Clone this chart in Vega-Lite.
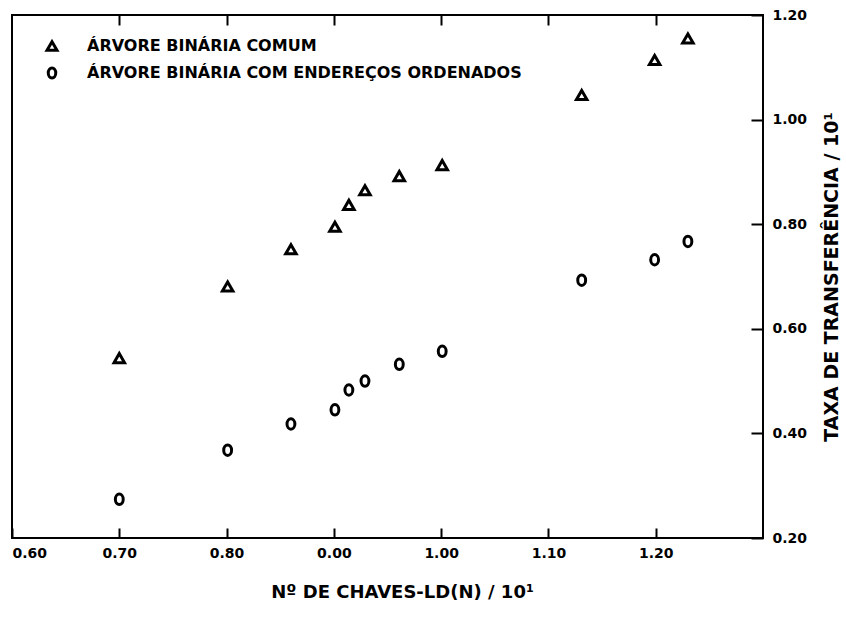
{
  "$schema": "https://vega.github.io/schema/vega-lite/v6.json",
  "width": 751,
  "height": 523,
  "autosize": {"type": "none"},
  "padding": {"left": 12, "top": 15, "right": 83, "bottom": 86},
  "background": "white",
  "config": {
    "view": {"stroke": "black", "strokeWidth": 2},
    "axis": {"domain": false, "grid": false, "ticks": true, "tickColor": "black", "tickWidth": 2, "labelColor": "black", "titleColor": "black", "labelFont": "DejaVu Sans", "titleFont": "DejaVu Sans", "labelFontWeight": "bold", "titleFontWeight": "bold"},
    "legend": {"labelFont": "DejaVu Sans", "labelFontWeight": "bold", "labelColor": "black"}
  },
  "data": {
    "values": [
      {"serie": "ÁRVORE BINÁRIA COMUM", "n": 0.700, "taxa": 0.544},
      {"serie": "ÁRVORE BINÁRIA COMUM", "n": 0.801, "taxa": 0.681},
      {"serie": "ÁRVORE BINÁRIA COMUM", "n": 0.860, "taxa": 0.752},
      {"serie": "ÁRVORE BINÁRIA COMUM", "n": 0.901, "taxa": 0.795},
      {"serie": "ÁRVORE BINÁRIA COMUM", "n": 0.914, "taxa": 0.837},
      {"serie": "ÁRVORE BINÁRIA COMUM", "n": 0.929, "taxa": 0.865},
      {"serie": "ÁRVORE BINÁRIA COMUM", "n": 0.961, "taxa": 0.892},
      {"serie": "ÁRVORE BINÁRIA COMUM", "n": 1.001, "taxa": 0.913},
      {"serie": "ÁRVORE BINÁRIA COMUM", "n": 1.131, "taxa": 1.047},
      {"serie": "ÁRVORE BINÁRIA COMUM", "n": 1.199, "taxa": 1.114},
      {"serie": "ÁRVORE BINÁRIA COMUM", "n": 1.230, "taxa": 1.155},
      {"serie": "ÁRVORE BINÁRIA COM ENDEREÇOS ORDENADOS", "n": 0.700, "taxa": 0.274},
      {"serie": "ÁRVORE BINÁRIA COM ENDEREÇOS ORDENADOS", "n": 0.801, "taxa": 0.368},
      {"serie": "ÁRVORE BINÁRIA COM ENDEREÇOS ORDENADOS", "n": 0.860, "taxa": 0.418},
      {"serie": "ÁRVORE BINÁRIA COM ENDEREÇOS ORDENADOS", "n": 0.901, "taxa": 0.445},
      {"serie": "ÁRVORE BINÁRIA COM ENDEREÇOS ORDENADOS", "n": 0.914, "taxa": 0.483},
      {"serie": "ÁRVORE BINÁRIA COM ENDEREÇOS ORDENADOS", "n": 0.929, "taxa": 0.500},
      {"serie": "ÁRVORE BINÁRIA COM ENDEREÇOS ORDENADOS", "n": 0.961, "taxa": 0.532},
      {"serie": "ÁRVORE BINÁRIA COM ENDEREÇOS ORDENADOS", "n": 1.001, "taxa": 0.557},
      {"serie": "ÁRVORE BINÁRIA COM ENDEREÇOS ORDENADOS", "n": 1.131, "taxa": 0.693},
      {"serie": "ÁRVORE BINÁRIA COM ENDEREÇOS ORDENADOS", "n": 1.199, "taxa": 0.732},
      {"serie": "ÁRVORE BINÁRIA COM ENDEREÇOS ORDENADOS", "n": 1.230, "taxa": 0.767}
    ]
  },
  "layer": [
    {
      "mark": {"type": "point", "filled": false, "color": "black", "strokeWidth": 3, "size": 110, "opacity": 1},
      "encoding": {
        "x": {
          "field": "n", "type": "quantitative",
          "scale": {"domain": [0.6, 1.3], "nice": false, "zero": false},
          "axis": {
            "orient": "bottom",
            "values": [0.6, 0.7, 0.8, 0.9, 1.0, 1.1, 1.2],
            "offset": -10,
            "tickSize": 10,
            "labelFlush": true,
            "labelExpr": "datum.value > 0.85 && datum.value < 0.95 ? '0.00' : format(datum.value, '.2f')",
            "labelFontSize": 14,
            "labelPadding": 8,
            "title": "Nº DE CHAVES-LD(N) / 10¹",
            "titleFontSize": 18,
            "titlePadding": 23,
            "titleX": 390
          }
        },
        "y": {
          "field": "taxa", "type": "quantitative",
          "scale": {"domain": [0.2, 1.2], "nice": false, "zero": false},
          "axis": {
            "orient": "right",
            "values": [0.2, 0.4, 0.6, 0.8, 1.0, 1.2],
            "format": ".2f",
            "offset": -12,
            "tickSize": 12,
            "labelFontSize": 14,
            "labelPadding": 9,
            "title": "TAXA DE TRANSFERÊNCIA / 10¹",
            "titleAngle": 270,
            "titleFontSize": 19,
            "titlePadding": 35
          }
        },
        "shape": {
          "field": "serie", "type": "nominal",
          "scale": {
            "domain": ["ÁRVORE BINÁRIA COMUM", "ÁRVORE BINÁRIA COM ENDEREÇOS ORDENADOS"],
            "range": ["triangle-up", "M0,-1A0.75,1 0 1,1 0,1A0.75,1 0 1,1 0,-1Z"]
          },
          "legend": {
            "title": null,
            "orient": "none",
            "legendX": 32,
            "legendY": 23,
            "symbolSize": 100,
            "symbolStrokeWidth": 3,
            "symbolStrokeColor": "black",
            "symbolFillColor": "transparent",
            "labelFontSize": 16,
            "labelLimit": 0,
            "labelOffset": 27,
            "rowPadding": 5
          }
        }
      }
    },
    {
      "mark": {"type": "point", "opacity": 0},
      "encoding": {
        "x": {
          "field": "n", "type": "quantitative",
          "axis": {
            "orient": "top",
            "values": [0.7, 0.8, 0.9, 1.0, 1.1, 1.2],
            "offset": -10,
            "tickSize": 10,
            "labels": false,
            "title": null
          }
        },
        "y": {"field": "taxa", "type": "quantitative", "axis": null}
      }
    }
  ],
  "resolve": {"axis": {"x": "independent", "y": "independent"}}
}
